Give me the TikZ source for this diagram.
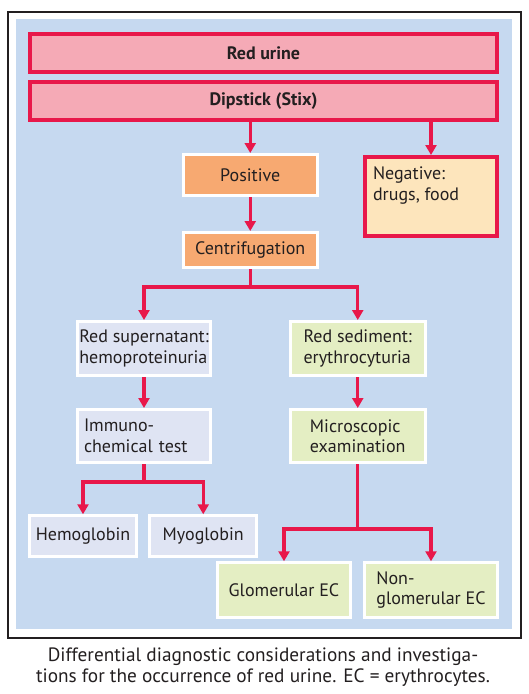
\documentclass[tikz,border=0pt]{standalone}
\usepackage{fontspec}
\setmainfont{PT Sans}
\usetikzlibrary{arrows.meta}

\definecolor{panelblue}{HTML}{C6D9F0}
\definecolor{stixred}{HTML}{E8184A}
\definecolor{stixpink}{HTML}{F5AAB6}
\definecolor{posorange}{HTML}{F7A971}
\definecolor{negcream}{HTML}{FDE5BC}
\definecolor{protlilac}{HTML}{DFE4F3}
\definecolor{sedgreen}{HTML}{E4EEC3}
\definecolor{inkgrey}{HTML}{231F20}

\tikzset{
  redbox/.style={draw=stixred, line width=4pt, inner sep=0pt},
  whitebox/.style={draw=white, line width=3pt, inner sep=0pt, align=left},
  flow/.style={draw=stixred, line width=3.2pt, -{Triangle[width=11pt,length=10pt]}},
}

\begin{document}
\begin{tikzpicture}[x=1pt,y=-1pt,font=\fontsize{18}{20.5}\selectfont,text=inkgrey]
\useasboundingbox (0,0) rectangle (529,694);
\fill[panelblue] (16,19) rectangle (512,629);
\draw[line width=1.2pt,inkgrey] (8,12) rectangle (521,638);

   \node[redbox,fill=stixpink,font=\fontsize{18}{20.5}\selectfont\bfseries,minimum width=467pt,minimum height=38pt] at (263.5,53) (urine) {Red urine};
   \node[redbox,fill=stixpink,font=\fontsize{18}{20.5}\selectfont\bfseries,minimum width=467pt,minimum height=38pt] at (263.5,101) (stix) {Dipstick (Stix)};

   \node[whitebox,fill=posorange,minimum width=133.5pt,minimum height=41pt] at (250.25,175) (pos) {Positive};
   \node[redbox,fill=negcream,inner xsep=8pt,inner ysep=10pt] at (431,196.5) (neg)
        {\parbox[c][59pt][t]{116pt}{Negative:\\drugs, food}};
   \node[whitebox,fill=posorange,minimum width=133.5pt,minimum height=35pt] at (250.25,250) (cent) {Centrifugation};

   \node[whitebox,fill=protlilac,minimum width=133pt,minimum height=54pt] at (144,348.5) (super) {Red supernatant:\\hemoproteinuria};
   \node[whitebox,fill=sedgreen,minimum width=134.5pt,minimum height=54pt] at (357.75,348.5) (sedi) {Red sediment:\\erythrocyturia};

   \node[whitebox,fill=protlilac,minimum width=133pt,minimum height=53pt,text width=120pt] at (144,436) (immuno) {Immuno-\\chemical test};
   \node[whitebox,fill=sedgreen,minimum width=134.5pt,minimum height=53pt] at (357.75,436) (micro) {Microscopic\\examination};

   \node[whitebox,fill=protlilac,minimum width=107pt,minimum height=40.5pt] at (83,536) (hemo) {Hemoglobin};
   \node[whitebox,fill=protlilac,minimum width=107pt,minimum height=40.5pt] at (203.25,536) (myo) {Myoglobin};

   \node[whitebox,fill=sedgreen,minimum width=133pt,minimum height=54.5pt] at (284,590) (glom) {Glomerular EC};
   \node[whitebox,fill=sedgreen,minimum width=133pt,minimum height=54.5pt] at (431,590) (nonglom) {Non-\\glomerular EC};

   \coordinate (centsplit) at (250.25,287);
   \coordinate (immsplit) at (144,482);
   \coordinate (micsplit) at (357.75,529);

    \draw[flow] (stix.south -| pos.north) -- (pos.north);
    \draw[flow] (stix.south -| neg.north) -- (neg.north);
    \draw[flow] (pos) -- (cent);

    \draw[flow] (cent.south) -- (centsplit) -| (super.north);
    \draw[flow] (centsplit) -| (sedi.north);
    \draw[flow] (super) -- (immuno);
    \draw[flow] (sedi) -- (micro);

    \draw[flow] (immuno.south) -- (immsplit) -| (hemo.north);
    \draw[flow] (immsplit) -| (myo.north);
    \draw[flow] (micro.south) -- (micsplit) -| (glom.north);
    \draw[flow] (micsplit) -| (nonglom.north);

   \node[align=center,font=\fontsize{19.3}{21}\selectfont] at (263,667) (caption)
        {Differential diagnostic considerations and investiga-\\tions for the occurrence of red urine. EC = erythrocytes.};
\end{tikzpicture}
\end{document}
